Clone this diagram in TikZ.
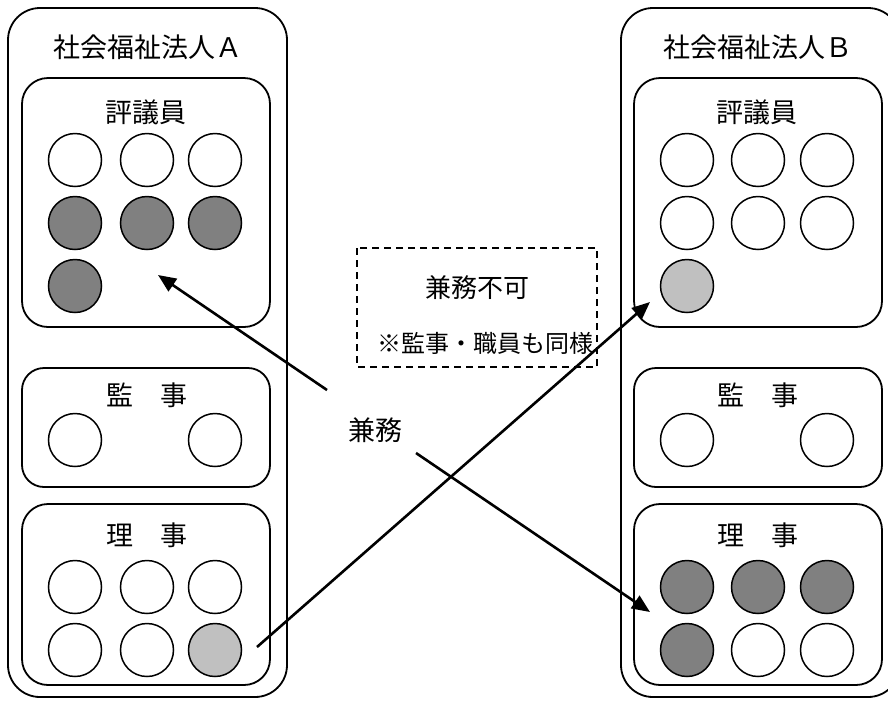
\documentclass[tikz,border=0pt]{standalone}
\usepackage{fontspec}
\newfontfamily\jp{Noto Sans CJK JP}
\usetikzlibrary{arrows, arrows.meta}

\definecolor{heavy}{HTML}{808080}
\definecolor{pale}{HTML}{C0C0C0}

\tikzset{
  memb/.style={circle, draw, line width=1.5pt, minimum size=53pt, inner sep=0pt, fill=white},
  dark/.style={memb, fill=heavy},
  light/.style={memb, fill=pale},
  corp/.style={draw, line width=1.8pt, rounded corners=32pt},
  organ/.style={draw, line width=1.8pt, rounded corners=26pt},
  lbl/.style={font=\jp\fontsize{27}{30}\selectfont, inner sep=0pt},
  link/.style={line width=2.6pt, -{Triangle[length=18pt,width=15pt]}}
}

\begin{document}
\begin{tikzpicture}[x=1pt,y=-1pt]
\path[use as bounding box, clip] (0,0) rectangle (888,702);

%corporation A
\draw[corp]  (8,8)    rectangle (287,697);
\draw[organ] (22,78)  rectangle (270,327); %councillors
\draw[organ, rounded corners=22pt] (22,368) rectangle (270,487); %auditors
\draw[organ] (22,504) rectangle (270,685); %directors

\node[lbl] (titleA) at (148,47)  {社会福祉法人Ａ};
\node[lbl] (hyoA)   at (146,112) {評議員};
\node[lbl] (kanA)   at (147,395) {監　事};
\node[lbl] (riA)    at (147,535) {理　事};

\node[memb] (ah1) at (75,160)  {};
\node[memb] (ah2) at (147,160) {};
\node[memb] (ah3) at (215,160) {};
\node[dark] (ah4) at (75,223)  {};
\node[dark] (ah5) at (147,223) {};
\node[dark] (ah6) at (215,223) {};
\node[dark] (ah7) at (75,286)  {};

\node[memb] (ak1) at (75,440)  {};
\node[memb] (ak2) at (215,440) {};

\node[memb]  (ar1) at (75,587)  {};
\node[memb]  (ar2) at (147,587) {};
\node[memb]  (ar3) at (215,587) {};
\node[memb]  (ar4) at (75,650)  {};
\node[memb]  (ar5) at (147,650) {};
\node[light] (ar6) at (215,650) {};

%corporation B
\draw[corp]  (621,8)   rectangle (900,697);
\draw[organ] (634,78)  rectangle (882,327); %councillors
\draw[organ, rounded corners=22pt] (634,368) rectangle (882,487); %auditors
\draw[organ] (634,504) rectangle (882,685); %directors

\node[lbl] (titleB) at (758,47)  {社会福祉法人Ｂ};
\node[lbl] (hyoB)   at (757,112) {評議員};
\node[lbl] (kanB)   at (758,395) {監　事};
\node[lbl] (riB)    at (758,535) {理　事};

\node[memb]  (bh1) at (687,160) {};
\node[memb]  (bh2) at (758,160) {};
\node[memb]  (bh3) at (827,160) {};
\node[memb]  (bh4) at (687,223) {};
\node[memb]  (bh5) at (758,223) {};
\node[memb]  (bh6) at (827,223) {};
\node[light] (bh7) at (687,286) {};

\node[memb] (bk1) at (687,440) {};
\node[memb] (bk2) at (827,440) {};

\node[dark] (br1) at (687,587) {};
\node[dark] (br2) at (758,587) {};
\node[dark] (br3) at (827,587) {};
\node[dark] (br4) at (687,650) {};
\node[memb] (br5) at (758,650) {};
\node[memb] (br6) at (827,650) {};

%not allowed box
\draw[line width=1.8pt, dash pattern=on 7pt off 5pt] (357,248) rectangle (597,367);
\node[lbl, font=\jp\fontsize{26}{28}\selectfont] (fuka) at (477,288) {兼務不可};
\node[lbl, font=\jp\fontsize{24}{26}\selectfont] (note) at (485,343) {※監事・職員も同様};

\node[lbl] (kenmu) at (375,430) {兼務};

%arrows
\coordinate (s1) at (327,390);  \coordinate (e1) at (158,275);
\coordinate (s2) at (257,647);  \coordinate (e2) at (650,302);
\coordinate (s3) at (416,453);  \coordinate (e3) at (650,612);
\draw[link] (s1) -- (e1);
\draw[link] (s2) -- (e2);
\draw[link] (s3) -- (e3);

\end{tikzpicture}
\end{document}
